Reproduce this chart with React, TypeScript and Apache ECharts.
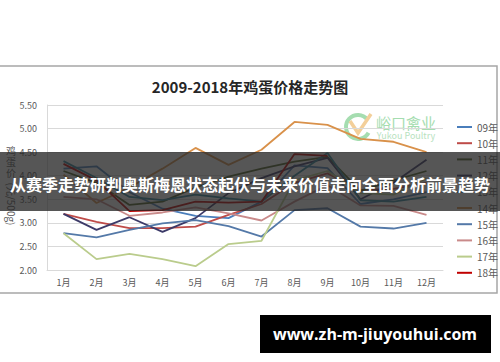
import React, { useEffect, useRef } from "react";
import * as echarts from "echarts";

const months = ["1月", "2月", "3月", "4月", "5月", "6月", "7月", "8月", "9月", "10月", "11月", "12月"];
const seriesNames = ["09年", "10年", "11年", "12年", "13年", "14年", "15年", "16年", "17年", "18年"];
const s09 = [4.15, 4.2, 3.65, 3.3, 3.15, 3.1, 3.45, 4.22, 4.16, 3.4, 3.5, 3.65];
const s10 = [3.19, 3.02, 2.89, 2.89, 2.92, 3.17, 3.4, 3.85, 4.05, 3.7, 3.72, 3.85];
const s11 = [4.1, 3.85, 3.38, 3.45, 3.75, 3.98, 4.15, 4.3, 4.4, 3.68, 3.9, 4.1];
const s12 = [3.19, 2.85, 3.12, 2.81, 3.1, 3.63, 3.95, 4.2, 4.38, 3.5, 3.85, 4.34];
const s13 = [4.31, 3.95, 3.55, 3.48, 3.6, 3.52, 3.45, 4.0, 4.48, 3.48, 3.45, 3.55];
const s14 = [4.02, 3.42, 3.75, 4.15, 4.59, 4.23, 4.55, 5.14, 5.08, 4.78, 4.72, 4.5];
const s15 = [2.78, 2.69, 2.85, 2.99, 3.06, 2.93, 2.71, 3.27, 3.31, 2.92, 2.88, 3.0];
const s16 = [3.55, 3.5, 3.15, 3.22, 3.33, 3.2, 3.05, 3.45, 3.8, 3.37, 3.36, 3.17];
const s17 = [2.78, 2.23, 2.34, 2.23, 2.08, 2.55, 2.62, 3.9, 4.1, 3.63, 3.6, 3.95];
const s18 = [4.25, 3.9, 3.25, 3.27, 3.45, 3.43, 3.45, 4.46, 4.42];
const seriesData = [s09, s10, s11, s12, s13, s14, s15, s16, s17, s18];
const colors = ["#4A7EBB", "#BE4B48", "#4F6228", "#3C3A68", "#31859C", "#D9914A", "#5479A8", "#C98A8A", "#BACC8C", "#C00000"];
const yTicks = { min: 2, max: 5.5, interval: 0.5 };
const titleText = "2009-2018年鸡蛋价格走势图";
const bannerText = "从赛季走势研判奥斯梅恩状态起伏与未来价值走向全面分析前景趋势";
const siteText = "www.zh-m-jiuyouhui.com";

const FONT = "'Noto Sans CJK SC', 'Noto Sans', sans-serif";

export default function App() {
  const ref = useRef<HTMLDivElement>(null);
  useEffect(() => {
    if (!ref.current) return;
    const chart = echarts.init(ref.current, null, { renderer: "svg" });
    chart.setOption({
      animation: false,
      backgroundColor: "#ffffff",
      color: colors,
      title: {
        text: titleText,
        left: "center",
        top: 74,
        textStyle: { fontSize: 15, fontWeight: "bold", color: "#262626", fontFamily: FONT },
      },
      legend: {
        orient: "vertical",
        left: 452,
        top: 116,
        icon: "rect",
        itemWidth: 15,
        itemHeight: 2,
        itemGap: 4.2,
        data: seriesNames,
        textStyle: { fontSize: 10, color: "#595959", lineHeight: 12, fontFamily: FONT },
      },
      grid: { left: 47, right: 57, top: 105, bottom: 92 },
      xAxis: {
        type: "category",
        data: months,
        boundaryGap: true,
        axisLine: { lineStyle: { color: "#D9D9D9" } },
        axisTick: { show: false },
        axisLabel: { fontSize: 9, color: "#595959", margin: 8, fontFamily: FONT },
      },
      yAxis: {
        type: "value",
        min: yTicks.min,
        max: yTicks.max,
        interval: yTicks.interval,
        axisLine: { show: true, lineStyle: { color: "#D9D9D9" } },
        axisTick: { show: false },
        splitLine: { lineStyle: { color: "#D9D9D9" } },
        axisLabel: { fontSize: 9, color: "#595959", margin: 10, fontFamily: FONT, formatter: (v: number) => v.toFixed(2) },
      },
      series: seriesNames.map((n, i) => ({
        name: n,
        type: "line",
        data: seriesData[i],
        symbol: "none",
        lineStyle: { width: 1.8, color: colors[i] },
        itemStyle: { color: colors[i] },
      })),
      graphic: [
        {
          type: "rect",
          z: 0,
          silent: true,
          shape: { x: -2, y: 66, width: 499, height: 227 },
          style: { fill: "none", stroke: "#A6A6A6", lineWidth: 1.5 },
        },
        {
          type: "group",
          z: 1,
          silent: true,
          children: [
            {
              type: "arc",
              shape: { cx: 358, cy: 127, r: 12, startAngle: 0.5, endAngle: 5.6, clockwise: true },
              style: { stroke: "#A5DDB0", lineWidth: 4, fill: "none" },
            },
            {
              type: "polyline",
              shape: { points: [[350, 121], [358, 133], [371, 114]] },
              style: { stroke: "#F3CF9A", lineWidth: 3.5, fill: "none" },
            },
            {
              type: "text",
              x: 406,
              y: 122,
              style: { text: "峪口禽业", fontSize: 15, fill: "#A5DDB0", align: "center", verticalAlign: "middle", fontFamily: FONT },
            },
            {
              type: "text",
              x: 406,
              y: 135,
              style: { text: "Yukou Poultry", fontSize: 9, fill: "#B8E2C0", align: "center", verticalAlign: "middle", fontFamily: FONT },
            },
          ],
        },
        { type: "text", x: 11, y: 150, style: { text: "鸡", fontSize: 10, fill: "#595959", align: "center", verticalAlign: "middle", fontFamily: FONT } },
        { type: "text", x: 11, y: 161, style: { text: "蛋", fontSize: 10, fill: "#595959", align: "center", verticalAlign: "middle", fontFamily: FONT } },
        { type: "text", x: 11, y: 172, style: { text: "价", fontSize: 10, fill: "#595959", align: "center", verticalAlign: "middle", fontFamily: FONT } },
        {
          type: "text",
          x: 11,
          y: 204,
          rotation: -Math.PI / 2,
          style: { text: "(元/500g)", fontSize: 10, fill: "#595959", align: "center", verticalAlign: "middle", fontFamily: FONT },
        },
        {
          type: "rect",
          z: 100,
          silent: true,
          shape: { x: 0, y: 152, width: 500, height: 59 },
          style: { fill: "rgba(38,38,38,0.78)" },
        },
        {
          type: "text",
          z: 101,
          x: 250,
          y: 184,
          style: { text: bannerText, fontSize: 16, fontWeight: "bold", fill: "#ffffff", align: "center", verticalAlign: "middle", fontFamily: FONT },
        },
        {
          type: "rect",
          z: 100,
          shape: { x: 260, y: 315, width: 231, height: 38 },
          style: { fill: "#000000" },
        },
        {
          type: "text",
          z: 101,
          x: 375,
          y: 334,
          style: { text: siteText, fontSize: 16, fontWeight: "bold", fill: "#ffffff", align: "center", verticalAlign: "middle", fontFamily: "'Open Sans', 'Noto Sans', sans-serif" },
        },
      ],
    });
    return () => chart.dispose();
  }, []);
  return <div ref={ref} style={{ position: "fixed", left: 0, top: 0, width: 500, height: 362, background: "#fff" }} />;
}
